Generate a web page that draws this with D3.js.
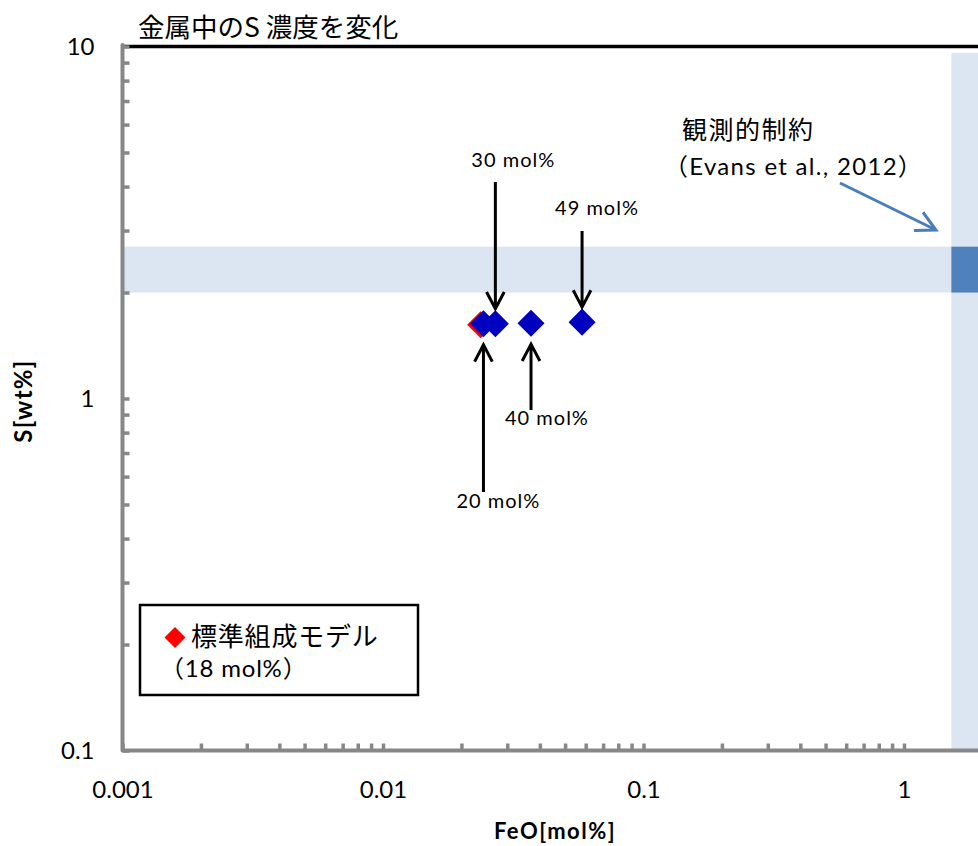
<!DOCTYPE html>
<html>
<head>
<meta charset="utf-8">
<script src="https://cdn.jsdelivr.net/npm/d3@7"></script>
<style>
  html, body { margin: 0; padding: 0; background: #fff; }
  svg { display: block; }
  text { font-family: Lato, "Noto Sans CJK JP", sans-serif; fill: #000; }
</style>
</head>
<body>
<svg id="chart" width="978" height="846"></svg>
<script>
// FeO content (mol%) and sulfur content in the metal (wt%)
const modelFeO = [0.0237];
const modelS = [1.62];
const caseLabels = ["20 mol%", "30 mol%", "40 mol%", "49 mol%"];
const caseFeO = [0.0243, 0.0270, 0.0370, 0.0581];
const caseS = [1.63, 1.63, 1.637, 1.648];

// observational constraint ranges (Evans et al., 2012)
const obsFeO = [1.52, 2];
const obsS = [2.0, 2.7];
const obsFeOColumnS = [0.1, 9.6];

const xTickLabels = ["0.001", "0.01", "0.1", "1"];
const yTickLabels = ["0.1", "1", "10"];

const svg = d3.select("#chart");

const x = d3.scaleLog().domain([0.001, 2]).range([122.5, 904 + 260.5 * Math.log10(2)]);
const y = d3.scaleLog().domain([0.1, 10]).range([750.5, 46.5]);

const light = "#dce6f2", dark = "#4f81bd", axisGray = "#878787";

// observational bands
svg.append("rect")
  .attr("x", x(0.001)).attr("width", x(obsFeO[0]) - x(0.001))
  .attr("y", y(obsS[1])).attr("height", y(obsS[0]) - y(obsS[1]))
  .attr("fill", light);
svg.append("rect")
  .attr("x", x(obsFeO[0])).attr("width", x(obsFeO[1]) - x(obsFeO[0]))
  .attr("y", y(obsFeOColumnS[1])).attr("height", y(obsFeOColumnS[0]) - y(obsFeOColumnS[1]))
  .attr("fill", light);
svg.append("rect")
  .attr("x", x(obsFeO[0])).attr("width", x(obsFeO[1]) - x(obsFeO[0]))
  .attr("y", y(obsS[1])).attr("height", y(obsS[0]) - y(obsS[1]))
  .attr("fill", dark);

// top frame line
svg.append("line")
  .attr("x1", x(0.001)).attr("x2", 978)
  .attr("y1", y(10)).attr("y2", y(10))
  .attr("stroke", "#000").attr("stroke-width", 3.5);

// tick positions 1..9 per decade
function decadeTicks(lo, hi) {
  const out = [];
  for (let e = Math.round(Math.log10(lo)); e <= Math.round(Math.log10(hi)); e++) {
    for (let m = 1; m <= 9; m++) {
      const v = +(m * Math.pow(10, e)).toPrecision(3);
      if (v >= lo && v <= hi) out.push(v);
    }
  }
  return out;
}

const xAxis = d3.axisBottom(x)
  .tickValues(decadeTicks(0.001, 1))
  .tickSizeInner(-7).tickSizeOuter(0).tickPadding(30.5)
  .tickFormat(d => { const s = String(d); return xTickLabels.includes(s) ? s : ""; });
const yAxis = d3.axisLeft(y)
  .tickValues(decadeTicks(0.1, 10))
  .tickSizeInner(-7).tickSizeOuter(0).tickPadding(28)
  .tickFormat(d => { const s = String(d); return yTickLabels.includes(s) ? s : ""; });

function styleAxis(g) {
  g.select(".domain").remove();
  g.selectAll(".tick line").attr("stroke", axisGray).attr("stroke-width", 3.5);
  g.selectAll(".tick text").style("font-family", "Lato, sans-serif").style("font-size", "24px").attr("fill", "#000");
}
svg.append("g").attr("transform", `translate(0,${y(0.1)})`).call(xAxis).call(styleAxis);
svg.append("g").attr("transform", `translate(${x(0.001)},0)`).call(yAxis).call(styleAxis);

// axis lines with rounded corner
svg.append("path")
  .attr("d", `M${x(0.001)},${y(10) - 1.5}V${y(0.1)}H978`)
  .attr("fill", "none").attr("stroke", axisGray).attr("stroke-width", 4)
  .attr("stroke-linejoin", "round").attr("stroke-linecap", "round");

// axis titles
svg.append("text")
  .attr("transform", `translate(32,401) rotate(-90)`)
  .attr("text-anchor", "middle")
  .style("font-size", "24px").style("font-weight", "bold").style("letter-spacing", "1.3px")
  .text("S[wt%]");
svg.append("text")
  .attr("x", 555).attr("y", 839)
  .attr("text-anchor", "middle")
  .style("font-size", "22px").style("font-weight", "bold").style("letter-spacing", "1.5px")
  .text("FeO[mol%]");

// chart title
svg.append("text")
  .attr("x", 138).attr("y", 37)
  .style("font-family", "'Noto Sans CJK JP', sans-serif").style("font-size", "26.5px")
  .text("金属中のS 濃度を変化");

// diamond markers
const diamond = size => d3.symbol().type(d3.symbolSquare).size(size)();

svg.append("g").selectAll("path")
  .data(modelFeO.map((f, i) => ({ f, s: modelS[i] })))
  .join("path")
  .attr("d", diamond(365))
  .attr("transform", d => `translate(${x(d.f)},${y(d.s)}) rotate(45)`)
  .attr("fill", "#ff0000");

svg.append("g").selectAll("path")
  .data(caseFeO.map((f, i) => ({ f, s: caseS[i] })))
  .join("path")
  .attr("d", diamond(365))
  .attr("transform", d => `translate(${x(d.f)},${y(d.s)}) rotate(45)`)
  .attr("fill", "#0000c0");

// annotation arrows for each FeO case
// dir: -1 arrow pointing down from above, +1 pointing up from below
const arrowLayout = [
  { dir: 1, tail: 492, tipGap: 21, dx: -27, dy: 16 },
  { dir: -1, tail: 182, tipGap: 15, dx: -24, dy: -15 },
  { dir: 1, tail: 410, tipGap: 21, dx: -26, dy: 15 },
  { dir: -1, tail: 231, tipGap: 15, dx: -27, dy: -16 }
];

function openArrow(g, x1, y1, x2, y2, color, headLen, width) {
  const a = Math.atan2(y2 - y1, x2 - x1);
  const spread = Math.PI / 6.5;
  const p1 = [x2 - headLen * Math.cos(a - spread), y2 - headLen * Math.sin(a - spread)];
  const p2 = [x2 - headLen * Math.cos(a + spread), y2 - headLen * Math.sin(a + spread)];
  g.append("path")
    .attr("d", `M${x1},${y1}L${x2},${y2}M${p1[0]},${p1[1]}L${x2},${y2}L${p2[0]},${p2[1]}`)
    .attr("fill", "none").attr("stroke", color).attr("stroke-width", width)
    .attr("stroke-linejoin", "miter");
}

const ann = svg.append("g");
caseFeO.forEach((f, i) => {
  const L = arrowLayout[i];
  const px = x(f), py = y(caseS[i]);
  const tip = L.dir < 0 ? py - L.tipGap : py + L.tipGap;
  openArrow(ann, px, L.tail, px, tip, "#000", 19, 3);
  ann.append("text")
    .attr("x", px + L.dx).attr("y", L.tail + L.dy)
    .style("font-size", "20px").style("letter-spacing", "1px")
    .text(caseLabels[i]);
});

// observational constraint note
svg.append("text")
  .attr("x", 682).attr("y", 139)
  .style("font-family", "'Noto Sans CJK JP', sans-serif").style("font-size", "25px").style("letter-spacing", "1.5px")
  .text("観測的制約");
svg.append("text")
  .attr("x", 664).attr("y", 175)
  .style("font-size", "24px").style("letter-spacing", "1.3px")
  .text("（Evans et al., 2012）");
openArrow(svg, 840, 183, 936, 230, "#4a7ebb", 22, 3);

// legend
const lg = svg.append("g");
lg.append("rect")
  .attr("x", 140).attr("y", 605).attr("width", 278).attr("height", 90)
  .attr("fill", "#fff").attr("stroke", "#000").attr("stroke-width", 2.5);
lg.append("path")
  .attr("d", diamond(220))
  .attr("transform", "translate(175,637.5) rotate(45)")
  .attr("fill", "#ff0000");
lg.append("text")
  .attr("x", 191).attr("y", 646)
  .style("font-family", "'Noto Sans CJK JP', sans-serif").style("font-size", "26px").style("letter-spacing", "0.8px")
  .text("標準組成モデル");
lg.append("text")
  .attr("x", 160).attr("y", 677)
  .style("font-size", "24px").style("letter-spacing", "0.8px")
  .text("（18 mol%）");
</script>
</body>
</html>
